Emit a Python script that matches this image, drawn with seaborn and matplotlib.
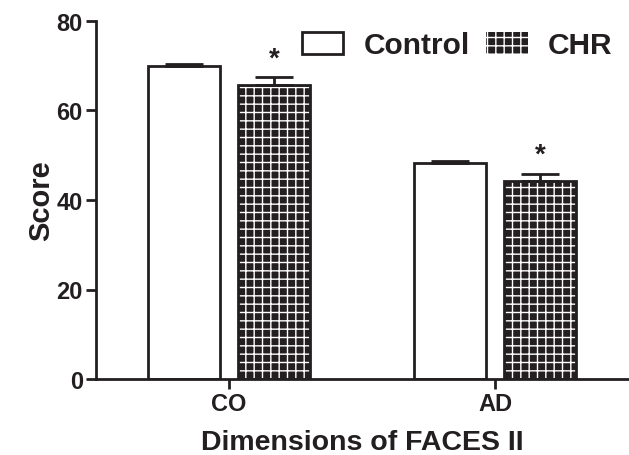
import numpy as np
import pandas as pd
import matplotlib
matplotlib.use("Agg")
import matplotlib.pyplot as plt
import seaborn as sns
from matplotlib.patches import Rectangle

categories = ["CO", "AD"]
groups = ["Control", "CHR"]
control_means = [70.0, 48.3]
chr_means = [65.7, 44.2]
control_sem = [0.4, 0.4]
chr_sem = [1.8, 1.7]
significance = ["*", "*"]

sns.set_theme(style="ticks")
plt.rcParams["font.family"] = ["Liberation Sans", "DejaVu Sans"]
plt.rcParams["font.weight"] = "bold"
plt.rcParams["hatch.linewidth"] = 1.0

ink = "#231f20"
LW = 2.0
HATCH = "++"

df = pd.DataFrame({
    "Dimension": categories * 2,
    "Group": [groups[0]] * 2 + [groups[1]] * 2,
    "Score": control_means + chr_means,
})

fig = plt.figure(figsize=(6.29, 4.56), dpi=100)
ax = fig.add_axes([96/629, 1 - 380/456, 532/629, (380 - 22)/456])

sns.barplot(data=df, x="Dimension", y="Score", hue="Group", order=categories,
            hue_order=groups, errorbar=None, width=0.677, gap=0.2,
            palette={"Control": "white", "CHR": ink}, ax=ax, legend=False)

sems = {"Control": control_sem, "CHR": chr_sem}
means = {"Control": control_means, "CHR": chr_means}
for g, cont in zip(groups, ax.containers):
    for i, p in enumerate(cont.patches):
        x0, y0 = p.get_x(), p.get_y()
        w, h = p.get_width(), p.get_height()
        if g == "CHR":
            p.set_facecolor(ink)
            p.set_edgecolor("white")
            p.set_hatch(HATCH)
            p.set_linewidth(0)
            ax.add_patch(Rectangle((x0, y0), w, h, fill=False, edgecolor=ink, lw=LW,
                                   zorder=p.get_zorder() + 0.1))
        else:
            p.set_facecolor("white")
            p.set_edgecolor(ink)
            p.set_linewidth(LW)
        cx = x0 + w / 2
        ax.errorbar(cx, means[g][i], yerr=[[0], [sems[g][i]]], fmt="none",
                    ecolor=ink, elinewidth=LW, capsize=14, capthick=LW, zorder=1)
        if g == "CHR":
            ax.text(cx, means[g][i] + sems[g][i] + 4.2, significance[i], ha="center", va="center",
                    fontsize=20, color=ink)

ax.set_ylim(0, 80)
ax.set_xlim(-0.5, 1.5)
ax.set_yticks([0, 20, 40, 60, 80])
ax.set_ylabel("Score", fontsize=21, fontweight="bold", color=ink, labelpad=1)
ax.set_xlabel("Dimensions of FACES II", fontsize=20.5, fontweight="bold", color=ink, labelpad=10)
ax.tick_params(axis="both", labelsize=17, width=LW, length=7.5, color=ink, labelcolor=ink, pad=2)
for lab in ax.get_xticklabels() + ax.get_yticklabels():
    lab.set_fontweight("bold")
sns.despine(ax=ax)
for s in ["left", "bottom"]:
    ax.spines[s].set_linewidth(LW)
    ax.spines[s].set_color(ink)

handles = [
    Rectangle((0, 0), 1, 1, facecolor="white", edgecolor=ink, lw=LW),
    Rectangle((0, 0), 1, 1, facecolor=ink, edgecolor="white", hatch=HATCH, lw=0),
]
leg = ax.legend(handles, groups, ncol=2, frameon=False, loc="upper right",
                bbox_to_anchor=(1.01, 1.03), fontsize=21.5, handlelength=1.4, handleheight=0.75,
                columnspacing=0.55, handletextpad=0.67, borderpad=0.2)
for t in leg.get_texts():
    t.set_fontweight("bold")
    t.set_color(ink)

fig.savefig("out.png", dpi=100)
